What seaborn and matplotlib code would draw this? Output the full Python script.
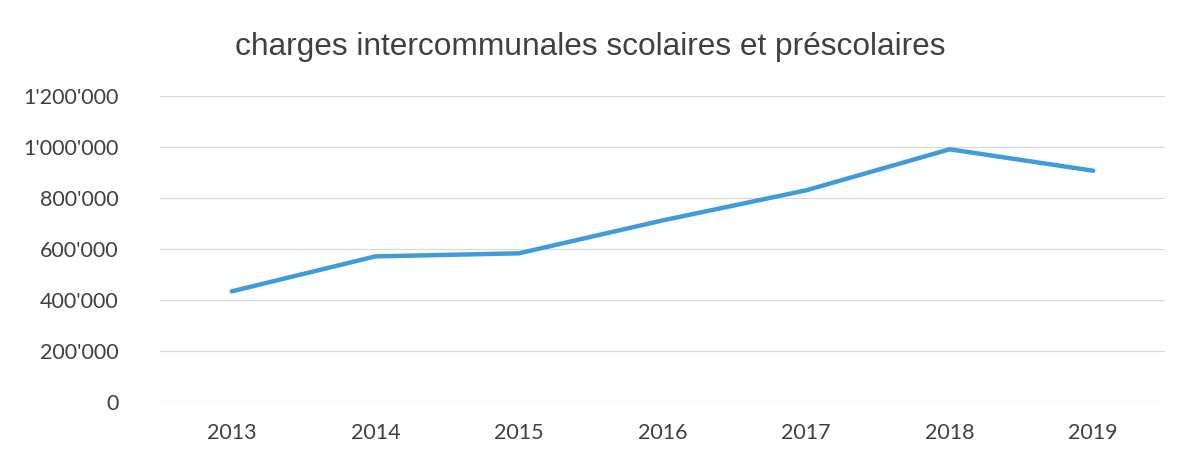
import matplotlib
matplotlib.use("Agg")
import matplotlib.pyplot as plt
import matplotlib.ticker as mticker
import seaborn as sns
import pandas as pd

# values
years = [2013, 2014, 2015, 2016, 2017, 2018, 2019]
charges = [434000, 571000, 583000, 712000, 830000, 991000, 907000]
y_ticks = [0, 200000, 400000, 600000, 800000, 1000000, 1200000]

df = pd.DataFrame({"annee": years, "charges": charges})

sns.set_theme(style="white")
plt.rcParams["font.family"] = ["Lato", "DejaVu Sans"]

fig = plt.figure(figsize=(11.8, 4.59), dpi=100)
ax = fig.add_axes([160 / 1180, 57 / 459, 1005 / 1180, 306 / 459])

sns.lineplot(data=df, x="annee", y="charges", ax=ax, color="#3f9cd8",
             linewidth=3.2, solid_capstyle="round", solid_joinstyle="round")

ax.set_xlim(2012.5, 2019.5)
ax.set_ylim(0, 1200000)
ax.set_xticks(years)
ax.set_yticks(y_ticks)
ax.yaxis.set_major_formatter(
    mticker.FuncFormatter(lambda v, p: f"{int(v):,}".replace(",", "'")))
ax.grid(axis="y", color="#d9d9d9", linewidth=0.9)
ax.set_axisbelow(True)
for s in ax.spines.values():
    s.set_visible(False)
ax.tick_params(axis="y", length=0, pad=30, labelsize=15.5, labelcolor="#404040")
ax.tick_params(axis="x", length=0, pad=15, labelsize=15.5, labelcolor="#404040")
ax.set_xlabel("")
ax.set_ylabel("")

fig.suptitle("charges intercommunales scolaires et préscolaires",
             x=0.5, y=0.93, fontsize=22.8, color="#404040",
             family=["Liberation Sans", "DejaVu Sans"])

fig.savefig("out.png", dpi=100, facecolor="white")
